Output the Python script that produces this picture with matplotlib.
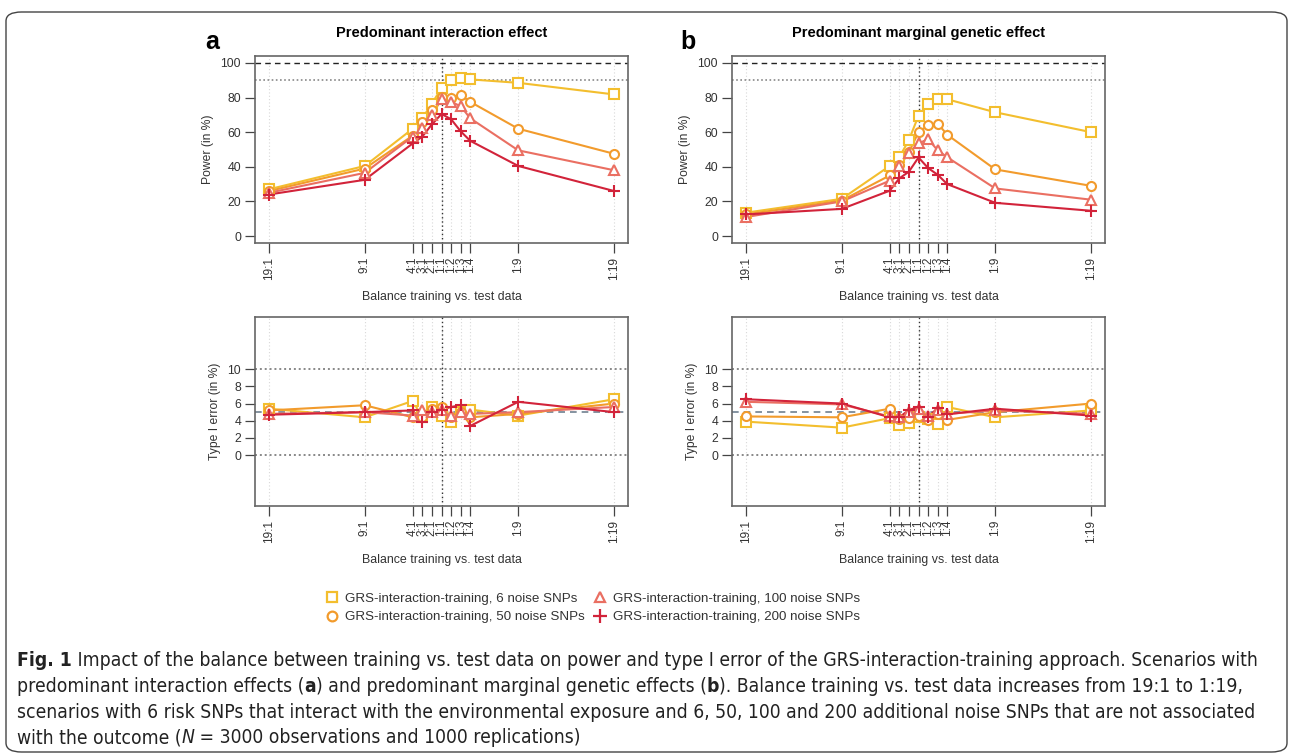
import matplotlib.pyplot as plt
import numpy as np
from matplotlib.lines import Line2D
from matplotlib.patches import FancyBboxPatch

plt.rcParams['font.family'] = ['Liberation Sans', 'DejaVu Sans']

# balance training vs. test data
ratios = ['19:1', '9:1', '4:1', '3:1', '2:1', '1:1', '1:2', '1:3', '1:4', '1:9', '1:19']
xpos = [-18, -8, -3, -2, -1, 0, 1, 2, 3, 8, 18]

labels = ['GRS-interaction-training, 6 noise SNPs',
          'GRS-interaction-training, 50 noise SNPs',
          'GRS-interaction-training, 100 noise SNPs',
          'GRS-interaction-training, 200 noise SNPs']
colores = ['#F3BE2E', '#F29B2C', '#EA6F62', '#D2233A']
marcas = ['s', 'o', '^', '+']

# power (in %), predominant interaction effect
pow_a_6 = [27, 40.5, 62, 68, 76.5, 85.5, 90, 91.4, 90.5, 88.5, 81.8]
pow_a_50 = [26, 39, 58, 66, 73, 80.5, 80, 81.5, 77.5, 62, 47.5]
pow_a_100 = [25, 36.5, 57.5, 62.5, 70, 79, 77.5, 75, 68, 49.5, 38]
pow_a_200 = [24, 32.5, 53.5, 57.5, 64.5, 70.5, 67.5, 60.5, 55, 40.5, 26]

# power (in %), predominant marginal genetic effect
pow_b_6 = [13.5, 21.5, 40.5, 45.5, 55.5, 69.5, 76.5, 79.3, 79, 71.5, 60]
pow_b_50 = [12.5, 20.5, 35, 41, 48.5, 60, 64, 65, 58.5, 38.5, 29]
pow_b_100 = [11, 20, 32, 40.5, 48, 53.5, 56, 49.5, 45.5, 27.5, 21]
pow_b_200 = [12.5, 15.7, 26.2, 33.3, 37.2, 45.4, 39.3, 35.4, 30, 19.2, 14.6]

# type I error (in %)
err_a_6 = [5.4, 4.4, 6.3, 4.4, 5.6, 4.6, 3.8, 5.0, 5.3, 4.6, 6.5]
err_a_50 = [5.2, 5.8, 4.4, 4.4, 5.4, 5.6, 4.4, 5.0, 4.4, 4.8, 6.0]
err_a_100 = [4.8, 5.0, 4.6, 5.2, 5.0, 5.2, 4.6, 5.0, 4.8, 5.0, 5.6]
err_a_200 = [4.7, 5.0, 5.2, 3.8, 5.0, 5.3, 5.6, 5.8, 3.4, 6.2, 5.0]

err_b_6 = [3.9, 3.2, 4.3, 3.5, 3.7, 4.4, 4.2, 3.6, 5.6, 4.4, 5.2]
err_b_50 = [4.5, 4.4, 5.4, 4.2, 4.3, 4.5, 4.1, 4.8, 4.1, 5.0, 6.0]
err_b_100 = [6.2, 5.9, 4.5, 4.4, 5.0, 5.4, 4.5, 5.3, 4.8, 5.2, 4.8]
err_b_200 = [6.5, 6.0, 4.4, 4.4, 5.25, 5.6, 4.4, 5.5, 4.75, 5.4, 4.6]

W, H = 1292, 756
fig = plt.figure(figsize=(W / 100, H / 100), dpi=100)


def caja(x0, y0, x1, y1):
    return [x0 / W, 1 - y1 / H, (x1 - x0) / W, (y1 - y0) / H]


def panel(ax, series, ylim, yticks, ylabel, tipo):
    for xp in xpos:
        ax.axvline(xp, color='#D8D8D8', lw=0.8, ls=(0, (1, 2)), zorder=0)
    ax.axvline(0, color='#333333', lw=1.0, ls=(0, (1, 2)), zorder=1)
    if tipo == 'power':
        ax.axhline(100, color='#222222', lw=1.0, ls=(0, (4, 3)), zorder=1)
        ax.axhline(90, color='#888888', lw=1.2, ls=(0, (1, 1.5)), zorder=1)
    else:
        ax.axhline(10, color='#888888', lw=1.4, ls=(0, (1, 1.5)), zorder=1)
        ax.axhline(0, color='#888888', lw=1.4, ls=(0, (1, 1.5)), zorder=1)
        ax.axhline(5, color='#6F8090', lw=1.2, ls=(0, (4, 3)), zorder=1)
    for vals, c, m in zip(series, colores, marcas):
        ms = 6.5 if m != '+' else 9
        ax.plot(xpos, vals, color=c, lw=1.5, zorder=2)
        ax.plot(xpos, vals, ls='none', marker=m, ms=ms, mfc='white' if m != '+' else c,
                mec=c, mew=1.5, zorder=3)
    ax.set_xlim(-19.44, 19.44)
    ax.set_ylim(*ylim)
    ax.set_xticks(xpos)
    ax.set_xticklabels(ratios, rotation=90, fontsize=8.5, color='#333333')
    ax.set_yticks(yticks)
    ax.set_yticklabels([str(v) for v in yticks], fontsize=8.8, color='#333333')
    ax.tick_params(axis='both', direction='out', length=7, width=0.9, color='#444444', pad=3)
    for s in ax.spines.values():
        s.set_color('#666666')
        s.set_linewidth(1.2)
    ax.set_xlabel('Balance training vs. test data', fontsize=8.9, color='#333333', labelpad=8)
    ax.set_ylabel(ylabel, fontsize=8.7, color='#333333', labelpad=5)


ax1 = fig.add_axes(caja(255, 56, 628, 243))
panel(ax1, [pow_a_6, pow_a_50, pow_a_100, pow_a_200], (-4, 104), [0, 20, 40, 60, 80, 100],
      'Power (in %)', 'power')
ax1.set_title('Predominant interaction effect', fontsize=10.5, fontweight='bold', pad=14)

ax2 = fig.add_axes(caja(732, 56, 1105, 243))
panel(ax2, [pow_b_6, pow_b_50, pow_b_100, pow_b_200], (-4, 104), [0, 20, 40, 60, 80, 100],
      'Power (in %)', 'power')
ax2.set_title('Predominant marginal genetic effect', fontsize=10.5, fontweight='bold', pad=14)

ax3 = fig.add_axes(caja(255, 317, 628, 506))
panel(ax3, [err_a_6, err_a_50, err_a_100, err_a_200], (-5.9, 16.05), [0, 2, 4, 6, 8, 10],
      'Type I error (in %)', 'error')

ax4 = fig.add_axes(caja(732, 317, 1105, 506))
panel(ax4, [err_b_6, err_b_50, err_b_100, err_b_200], (-5.9, 16.05), [0, 2, 4, 6, 8, 10],
      'Type I error (in %)', 'error')

fig.text(205 / W, 1 - 42 / H, 'a', fontsize=18, fontweight='bold', ha='left', va='center')
fig.text(680 / W, 1 - 42 / H, 'b', fontsize=18, fontweight='bold', ha='left', va='center')

# legend
handles = [Line2D([], [], ls='none', marker=m, ms=7 if m != '+' else 10, mfc='white' if m != '+' else c,
                  mec=c, mew=1.6) for c, m in zip(colores, marcas)]
fig.legend(handles, labels, ncol=2, loc='center right',
           bbox_to_anchor=(872 / W, 1 - 608 / H), frameon=False, fontsize=9.6,
           handlelength=1.0, handletextpad=0.5, columnspacing=0.6, labelspacing=0.45,
           labelcolor='#333333')

# caption, drawn piece by piece
renderer = fig.canvas.get_renderer()
lineas = [
    [('Fig. 1', 'bold', 'normal'), (' Impact of the balance between training vs. test data on power and type I error of the GRS-interaction-training approach. Scenarios with', 'normal', 'normal')],
    [('predominant interaction effects (', 'normal', 'normal'), ('a', 'bold', 'normal'),
     (') and predominant marginal genetic effects (', 'normal', 'normal'), ('b', 'bold', 'normal'),
     ('). Balance training vs. test data increases from 19:1 to 1:19,', 'normal', 'normal')],
    [('scenarios with 6 risk SNPs that interact with the environmental exposure and 6, 50, 100 and 200 additional noise SNPs that are not associated', 'normal', 'normal')],
    [('with the outcome (', 'normal', 'normal'), ('N', 'normal', 'italic'),
     (' = 3000 observations and 1000 replications)', 'normal', 'normal')],
]
for i, partes in enumerate(lineas):
    x = 17
    y = 1 - (661 + 25.5 * i) / H
    for txt, peso, estilo in partes:
        t = fig.text(x / W, y, txt, fontsize=13.9, family='DejaVu Sans', fontstretch='condensed',
                     fontweight=peso, fontstyle=estilo, ha='left', va='center', color='#222222')
        bb = t.get_window_extent(renderer)
        x += bb.width

borde = FancyBboxPatch((6 / W, 1 - 752 / H), 1281 / W, 740 / H,
                       boxstyle='round,pad=0,rounding_size=0.012', transform=fig.transFigure,
                       fill=False, ec='#444444', lw=1.0)
fig.patches.append(borde)

fig.savefig('out.png', dpi=100)
